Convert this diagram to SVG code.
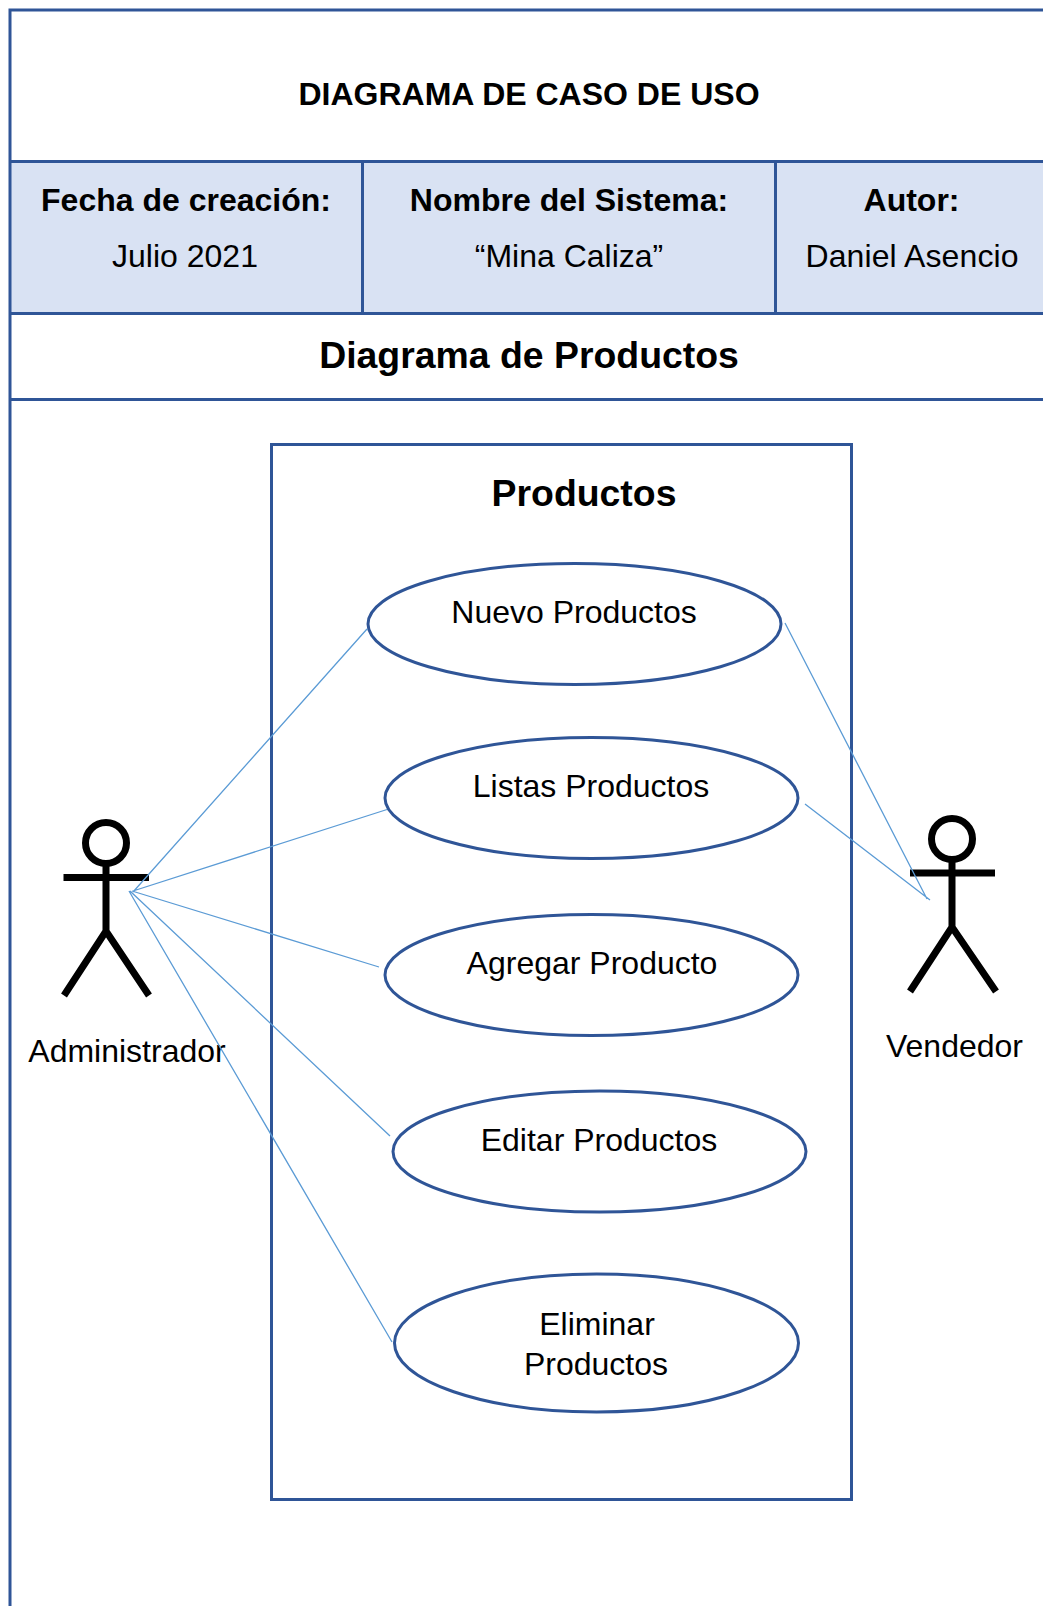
<svg xmlns="http://www.w3.org/2000/svg" width="1043" height="1606" viewBox="0 0 1043 1606">
<style>
text{font-family:"Liberation Sans",Arial,sans-serif;fill:#000;text-anchor:middle;font-size:32px}
.b{font-weight:bold}
.big{font-size:37.4px}
.frame{stroke:#2F5597;stroke-width:3;fill:none}
.uc{stroke:#2F5597;stroke-width:3;fill:#fff}
.act{stroke:#000;stroke-width:7;fill:none}
.con{stroke:#5B9BD5;stroke-width:1.300;fill:none}
</style>
<rect width="1043" height="1606" fill="#fff"/>
<g id="header">
<rect x="10" y="161" width="1033" height="152" fill="#D9E2F3"/>
<path class="frame" d="M1043 10H10V1606M10 161.500H1043M10 313.500H1043M10 399.500H1043M362.500 161V313M775.500 161V313"/>
<text class="b" x="529" y="105">DIAGRAMA DE CASO DE USO</text>
<text class="b" x="186" y="211">Fecha de creación:</text>
<text x="185" y="267">Julio 2021</text>
<text class="b" x="569" y="211">Nombre del Sistema:</text>
<text x="569" y="267">“Mina Caliza”</text>
<text class="b" x="911.500" y="211">Autor:</text>
<text x="912" y="267" textLength="213">Daniel Asencio</text>
<text class="b big" x="529" y="368">Diagrama de Productos</text>
</g>
<g id="boundary">
<rect class="frame" x="271.500" y="444.500" width="580" height="1055"/>
<text class="b big" x="584" y="506">Productos</text>
</g>
<g id="uc1"><ellipse class="uc" cx="574.500" cy="624" rx="206.500" ry="60.500"/><text x="574" y="623">Nuevo Productos</text></g>
<g id="uc2"><ellipse class="uc" cx="591.500" cy="798" rx="206.500" ry="60.500"/><text x="591" y="797">Listas Productos</text></g>
<g id="uc3"><ellipse class="uc" cx="591.500" cy="975" rx="206.500" ry="60.500"/><text x="592" y="974">Agregar Producto</text></g>
<g id="uc4"><ellipse class="uc" cx="599.500" cy="1151.500" rx="206.500" ry="60.500"/><text x="599" y="1151">Editar Productos</text></g>
<g id="uc5"><ellipse class="uc" cx="596.500" cy="1343" rx="202" ry="69"/><text x="597" y="1335">Eliminar</text><text x="596" y="1375">Productos</text></g>
<g id="actor-administrador">
<circle class="act" cx="106" cy="843" r="20.500"/>
<path class="act" d="M106 864V931M63.500 877.500H149M64 995.500L106 931L149 995.500"/>
<text x="127" y="1062">Administrador</text>
</g>
<g id="actor-vendedor">
<circle class="act" cx="952" cy="839" r="20.500"/>
<path class="act" d="M952 860V927M910 873H995M910 991.500L952 927L996 991.500"/>
<text x="954.500" y="1057">Vendedor</text>
</g>
<g id="connectors">
<path class="con" d="M367 629L133 892M387 809.500L133 891M379 967L132 891M390 1136L130 891M392 1342L129 891"/>
<path class="con" d="M785 623L927 899M805 804L930 900"/>
</g>
</svg>
